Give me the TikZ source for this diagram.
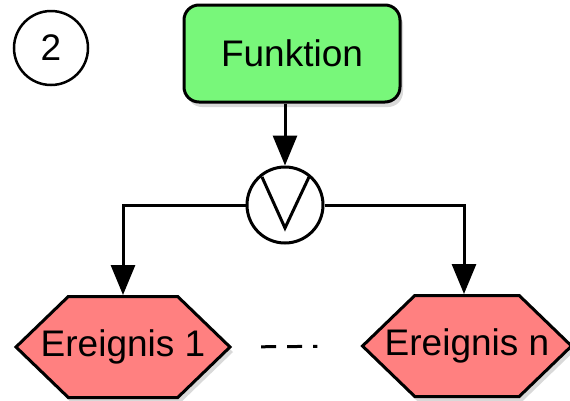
\documentclass[tikz,border=0pt]{standalone}
\usepackage{fontspec}
\setmainfont{Liberation Sans}
\usepackage{tikz}
\usetikzlibrary{positioning,shapes.symbols,shadows,arrows.meta}

\definecolor{fnGreen}{RGB}{120,247,122}
\definecolor{evRed}{RGB}{255,128,128}

\begin{document}
\begin{tikzpicture}[x=1pt,y=-1pt,>={Triangle[length=30pt,width=24pt]},line width=3pt,
		every node/.style={font=\fontsize{37}{44}\selectfont,inner sep=0pt},
		every label/.style={font=\fontsize{37}{44}\selectfont,inner sep=0pt},
		shade/.style={drop shadow={shadow xshift=3pt,shadow yshift=-5pt,opacity=0.3}},
		funcbox/.style={draw,rounded corners=15pt,fill=fnGreen,minimum width=216pt,minimum height=97pt,shade},
		eventbox/.style={draw,signal,signal to=west and east,signal pointer angle=88,fill=evRed,minimum height=101pt,shade},
		joinbox/.style={draw,circle,fill=white,minimum size=76pt}]
		\useasboundingbox (0,0) rectangle (570,400);
		% create the nodes
		\node (num) [draw,circle,line width=2.5pt,minimum size=74pt] at (51,48) {2};
		\node (fn) [funcbox] at (292,53.5) {Funktion};
		\node (or) [joinbox] at (285,205) {};
		\node (e1) [eventbox,minimum width=214pt,label=center:Ereignis 1] at (123,347) {};
		\node (en) [eventbox,minimum width=209pt,label=center:Ereignis n] at (467,346) {};
		
		% the xor sign
		\draw ([shift={(-23,-28)}]or.center) -- ([shift={(0,23)}]or.center) -- ([shift={(24,-28)}]or.center);
		
		% connect the nodes
		\draw[->] (or |- fn.south) -- (or.north);
		\draw[->] (or.west) -| (e1.north);
		\draw[->] (or.east) -| ([xshift=-3pt]en.north);
		\draw[dash pattern=on 15pt off 11pt,shorten <=29pt,shorten >=43pt] (e1.east) -- (en.west);
\end{tikzpicture}
\end{document}
